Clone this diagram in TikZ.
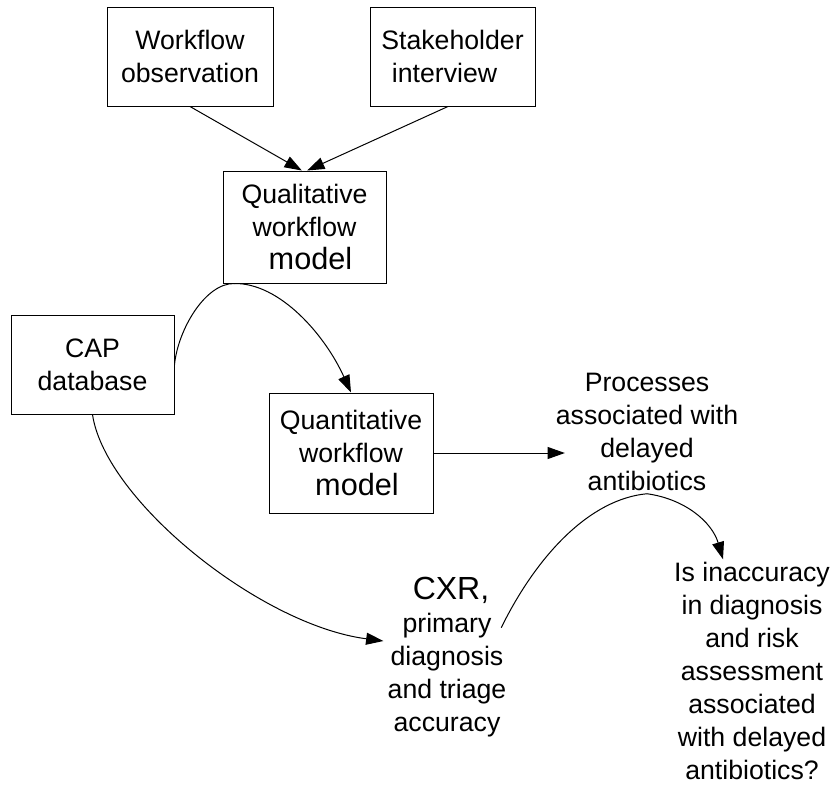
\documentclass[tikz,border=0pt]{standalone}
\usepackage{fontspec}
\setmainfont{Liberation Sans}
\usetikzlibrary{arrows.meta,calc}
\begin{document}
\begin{tikzpicture}[x=0.75pt,y=-0.75pt,
  every node/.style={font=\fontsize{20}{24.75}\selectfont, align=center},
  box/.style={draw, line width=0.75pt, inner sep=0pt},
  free/.style={inner sep=2pt},
  conn/.style={line width=0.75pt, -{Triangle[length=13pt,width=9pt]}},
  plain/.style={line width=0.75pt}]
\useasboundingbox (0,0) rectangle (834,785);
\newcommand{\bigmodel}{\hspace{0.45em}{\fontsize{23}{24.75}\selectfont model}}
\node[box, minimum width=124.5pt, minimum height=74.25pt] (wf) at (190,56.5) {Workflow\\observation};
\node[box, minimum width=123.75pt, minimum height=74.25pt] (sh) at (452.5,56.5) {Stakeholder\\\hspace{-0.6em}interview};
\node[box, minimum width=122.25pt, minimum height=84pt] (qual) at (304.5,227) {Qualitative\\workflow\\\bigmodel};
\node[box, minimum width=122.25pt, minimum height=74.25pt] (cap) at (92.5,364.5) {CAP\\database};
\node[box, minimum width=123pt, minimum height=90pt] (quant) at (351,453) {Quantitative\\workflow\\\bigmodel};
\node[free] (proc) at (647,432) {Processes\\associated with\\delayed\\antibiotics};
\node[free] (cxr) at (447,657) {\hspace{0.3em}{\fontsize{24}{24.75}\selectfont CXR,}\\primary\\diagnosis\\and triage\\accuracy};
\node[free] (isq) at (752,671) {Is inaccuracy\\in diagnosis\\and risk\\assessment\\associated\\with delayed\\antibiotics?};

\draw[conn] (wf.south) -- ([xshift=-2pt]qual.north);
\draw[conn] ([xshift=-3.4pt]sh.south) -- ([xshift=2pt]qual.north);
\draw[plain] (cap.east) .. controls (178,330) and (205,283) .. ([xshift=9pt]qual.south west);
\draw[conn] ([xshift=9pt]qual.south west) .. controls (280,283) and (325,335) .. (quant.north);
\draw[conn] (cap.south) .. controls (105,500) and (260,625) .. ([yshift=12pt,xshift=-1pt]cxr.west);
\draw[conn] (quant.east) -- ($(quant.east -| proc.west)+(12,0)$);
\draw[conn] ([yshift=22pt,xshift=-6pt]cxr.east) .. controls (537,555) and (590,499) .. (proc.south)
  .. controls (685,499) and (712,522) .. ([xshift=-21.75pt]isq.north);
\end{tikzpicture}
\end{document}
